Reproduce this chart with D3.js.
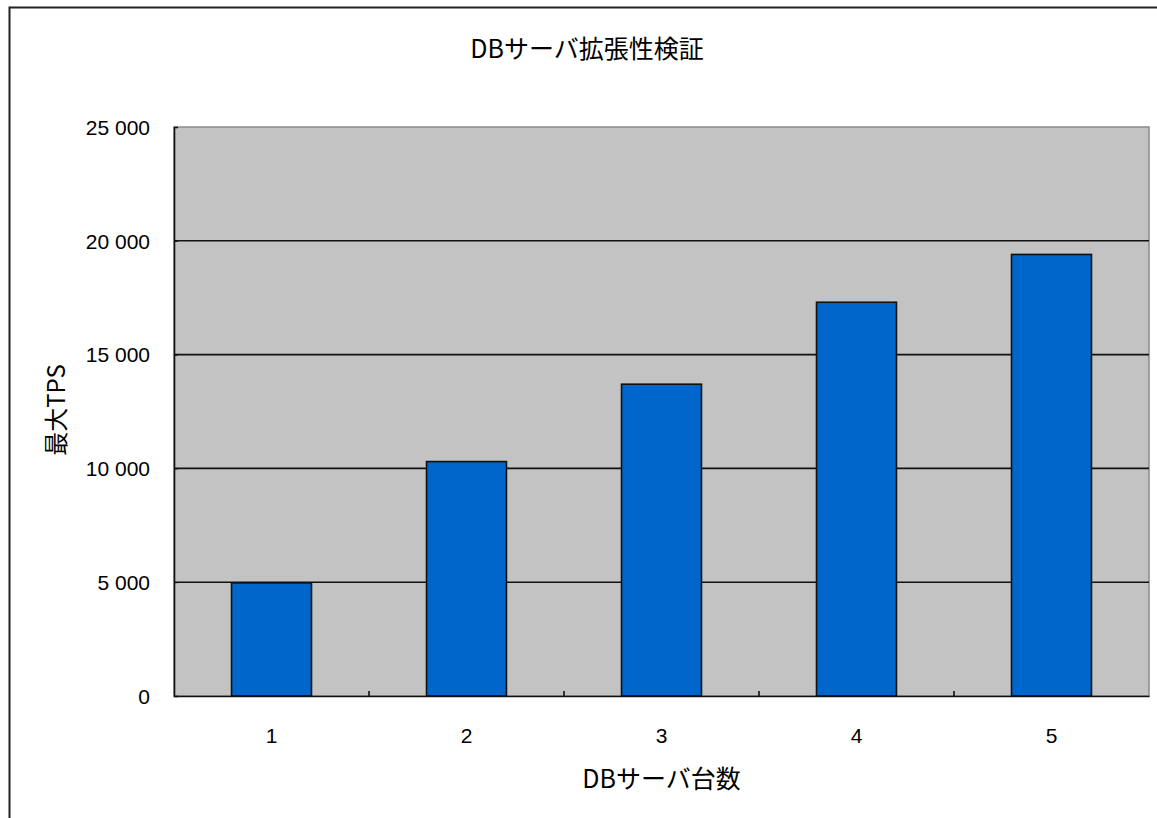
<!DOCTYPE html>
<html>
<head>
<meta charset="utf-8">
<script src="https://cdn.jsdelivr.net/npm/d3@7"></script>
<style>
  html, body { margin: 0; padding: 0; background: #fff; }
  svg { display: block; }
  text { font-family: "Noto Sans CJK JP", "Noto Sans", sans-serif; fill: #000; }
</style>
</head>
<body>
<svg id="chart" width="1157" height="818"></svg>
<script>
// DBサーバ台数ごとの最大TPS
const serverCounts = ["1", "2", "3", "4", "5"];
const maxTps = [4970, 10300, 13700, 17300, 19400];
const yTicks = [0, 5000, 10000, 15000, 20000, 25000];

const titleText = "DBサーバ拡張性検証";
const xAxisTitle = "DBサーバ台数";
const yAxisTitle = "最大TPS";

const W = 1157, H = 818;
const plot = { left: 174, top: 127, right: 1149, bottom: 696 };
const numFont = "'Liberation Sans', Arial, sans-serif";

const svg = d3.select("#chart");

// outer chart frame (runs off the right and bottom edges)
svg.append("rect")
  .attr("x", 9.5).attr("y", 7.5)
  .attr("width", W + 20).attr("height", H + 20)
  .attr("fill", "#fff")
  .attr("stroke", "#222")
  .attr("stroke-width", 2);

const x = d3.scaleBand()
  .domain(serverCounts)
  .range([plot.left, plot.right])
  .paddingInner(0.59)
  .paddingOuter(0.295);

const y = d3.scaleLinear()
  .domain([0, 25000])
  .range([plot.bottom, plot.top]);

// plot area background
svg.append("rect")
  .attr("x", plot.left).attr("y", plot.top)
  .attr("width", plot.right - plot.left)
  .attr("height", plot.bottom - plot.top)
  .attr("fill", "#c3c3c3")
  .attr("stroke", "#8a8a8a")
  .attr("stroke-width", 1.5);

// horizontal gridlines
svg.append("g")
  .selectAll("line")
  .data(yTicks.filter(d => d > 0 && d < 25000))
  .join("line")
  .attr("x1", plot.left).attr("x2", plot.right)
  .attr("y1", d => y(d)).attr("y2", d => y(d))
  .attr("stroke", "#111")
  .attr("stroke-width", 1.6);

// bars
svg.append("g")
  .selectAll("rect")
  .data(maxTps)
  .join("rect")
  .attr("x", (d, i) => x(serverCounts[i]))
  .attr("y", d => y(d))
  .attr("width", x.bandwidth())
  .attr("height", d => y(0) - y(d))
  .attr("fill", "#0066cc")
  .attr("stroke", "#111")
  .attr("stroke-width", 1.6);

// y axis
const fmt = v => d3.format(",")(v).replace(/,/g, " ");
const yAxis = svg.append("g")
  .attr("transform", `translate(${plot.left},0)`)
  .call(d3.axisLeft(y).tickValues(yTicks).tickSize(-4).tickPadding(24).tickFormat(fmt));
yAxis.select(".domain").attr("stroke", "#111").attr("stroke-width", 1.6);
yAxis.selectAll(".tick line").attr("stroke", "#111");
yAxis.selectAll("text")
  .attr("dy", "0.35em")
  .style("font-size", "21px")
  .style("font-family", numFont);

// x axis: ticks sit between categories
const step = x.step();
const xAxis = svg.append("g")
  .attr("transform", `translate(0,${plot.bottom})`)
  .call(d3.axisBottom(x).tickSize(0).tickPadding(0));
xAxis.select(".domain").attr("stroke", "#111").attr("stroke-width", 1.6);
xAxis.selectAll("text")
  .attr("y", 40)
  .attr("dy", "0.35em")
  .style("font-size", "21px")
  .style("font-family", numFont);
xAxis.append("g")
  .selectAll("line")
  .data(serverCounts.slice(1))
  .join("line")
  .attr("x1", d => x(d) - x.paddingInner() * step / 2)
  .attr("x2", d => x(d) - x.paddingInner() * step / 2)
  .attr("y1", 0).attr("y2", -5)
  .attr("stroke", "#111")
  .attr("stroke-width", 1.6);

// titles
svg.append("text")
  .attr("x", 587).attr("y", 47)
  .attr("text-anchor", "middle")
  .attr("dominant-baseline", "central")
  .style("font-size", "25px")
  .text(titleText);

svg.append("text")
  .attr("x", (plot.left + plot.right) / 2).attr("y", 777)
  .attr("text-anchor", "middle")
  .attr("dominant-baseline", "central")
  .style("font-size", "25px")
  .text(xAxisTitle);

svg.append("text")
  .attr("transform", "translate(54,410) rotate(-90)")
  .attr("text-anchor", "middle")
  .attr("dominant-baseline", "central")
  .style("font-size", "24px")
  .text(yAxisTitle);
</script>
</body>
</html>
